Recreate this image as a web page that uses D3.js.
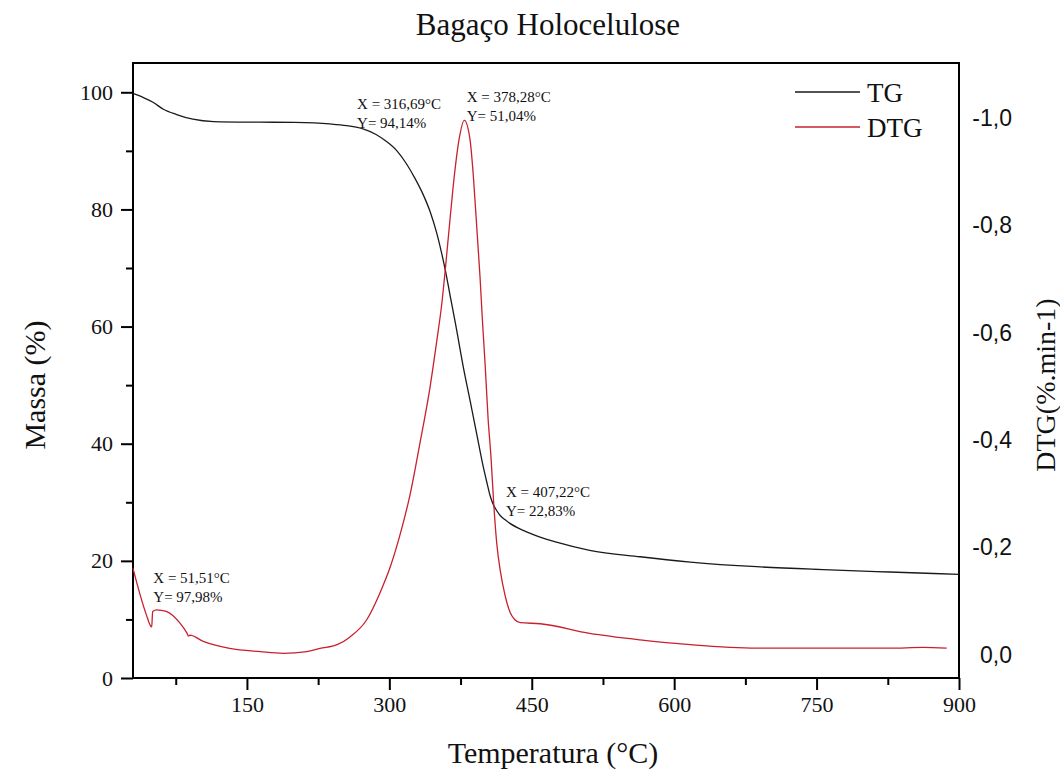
<!DOCTYPE html>
<html>
<head>
<meta charset="utf-8">
<script src="https://cdn.jsdelivr.net/npm/d3@7"></script>
<style>
  body { margin: 0; background: #fff; }
  text { font-family: "Liberation Serif", "Times New Roman", serif; fill: #111; }
</style>
</head>
<body>
<svg id="chart" width="1060" height="772"></svg>
<script>
// TG curve (mass %)
var tgTemp = [30, 41, 51, 62, 76, 93, 115, 164, 200, 237, 255, 273, 286, 297, 308, 318, 327, 336, 343, 350, 355, 359, 364, 370, 378, 385, 392, 399, 403, 406, 409, 413, 417, 422, 427, 441, 458, 476, 511, 564, 617, 687, 757, 827, 900];
var tgMass = [99.8, 99.1, 98.3, 97.1, 96.2, 95.4, 95.0, 94.9, 94.85, 94.6, 94.3, 93.7, 92.8, 91.6, 90.0, 87.8, 85.3, 82.4, 79.6, 75.9, 72.6, 69.6, 65.3, 60.2, 53.0, 47.4, 41.7, 36.0, 33.2, 31.2, 29.8, 28.6, 27.7, 27.0, 26.4, 25.2, 24.1, 23.2, 21.8, 20.7, 19.8, 19.0, 18.5, 18.1, 17.7];

// DTG curve (%.min-1)
var dtgTemp = [30, 37, 44, 49.7, 50.7, 55, 65, 79.5, 87, 88.5, 90, 104, 132, 164, 188, 213, 227, 245, 259, 276, 290, 301, 311, 322, 332, 343, 350, 355, 362, 367, 373, 379, 385, 388.5, 392, 395.5, 398, 401, 404, 407, 410, 413, 417, 422, 427, 432, 438, 459, 511, 564, 617, 687, 757, 827, 862, 887];
var dtgRate = [-0.161, -0.115, -0.075, -0.052, -0.081, -0.084, -0.081, -0.059, -0.040, -0.035, -0.037, -0.025, -0.012, -0.006, -0.003, -0.006, -0.012, -0.019, -0.034, -0.065, -0.115, -0.164, -0.222, -0.300, -0.392, -0.500, -0.585, -0.650, -0.775, -0.868, -0.955, -0.995, -0.959, -0.891, -0.798, -0.704, -0.624, -0.537, -0.440, -0.370, -0.280, -0.210, -0.155, -0.110, -0.080, -0.066, -0.060, -0.058, -0.040, -0.028, -0.019, -0.0125, -0.0125, -0.0125, -0.014, -0.0125];

var xTicks = [150, 300, 450, 600, 750, 900];
var xMinor = [75, 225, 375, 525, 675, 825];
var massTicks = [0, 20, 40, 60, 80, 100];
var massMinor = [10, 30, 50, 70, 90];
var dtgTicks = [0, -0.2, -0.4, -0.6, -0.8, -1.0];

var noteLines = [
  ["X = 316,69°C", "Y= 94,14%"],
  ["X = 378,28°C", "Y= 51,04%"],
  ["X = 407,22°C", "Y= 22,83%"],
  ["X = 51,51°C", "Y= 97,98%"]
];
// where each note sits, in temperature / mass units
var noteTemp = [266, 381.5, 422.9, 51.4];
var noteMass = [97.2, 98.4, 30.9, 16.2];

var seriesNames = ["TG", "DTG"];
var seriesColors = ["#1a1a1a", "#c8202e"];

var plotLeft = 133, plotRight = 959, plotTop = 63, plotBottom = 678;

var svg = d3.select("#chart");

var x = d3.scaleLinear().domain([30, 900]).range([plotLeft, plotRight]);
var y = d3.scaleLinear().domain([0, 105]).range([plotBottom, plotTop]);
var y2 = d3.scaleLinear().domain([0.043, -1.102]).range([plotBottom, plotTop]);

// frame
svg.append("rect")
  .attr("x", plotLeft).attr("y", plotTop)
  .attr("width", plotRight - plotLeft).attr("height", plotBottom - plotTop)
  .attr("fill", "none").attr("stroke", "#000").attr("stroke-width", 2);

function styleAxis(g) {
  g.select(".domain").remove();
  g.selectAll(".tick line").attr("stroke", "#000").attr("stroke-width", 2);
}

// bottom axis
svg.append("g")
  .attr("transform", "translate(0," + plotBottom + ")")
  .call(d3.axisBottom(x).tickValues(xTicks).tickSize(12).tickPadding(6))
  .call(styleAxis)
  .selectAll("text")
    .style("font-family", "Liberation Serif, serif")
    .style("font-size", "22px")
    .attr("fill", "#111");
svg.append("g")
  .attr("transform", "translate(0," + plotBottom + ")")
  .call(d3.axisBottom(x).tickValues(xMinor).tickSize(7).tickFormat(""))
  .call(styleAxis);

// left axis
svg.append("g")
  .attr("transform", "translate(" + plotLeft + ",0)")
  .call(d3.axisLeft(y).tickValues(massTicks).tickSize(12).tickPadding(8))
  .call(styleAxis)
  .selectAll("text")
    .style("font-family", "Liberation Serif, serif")
    .style("font-size", "22px")
    .attr("fill", "#111");
svg.append("g")
  .attr("transform", "translate(" + plotLeft + ",0)")
  .call(d3.axisLeft(y).tickValues(massMinor).tickSize(7).tickFormat(""))
  .call(styleAxis);

// right axis (no tick marks)
var rightAxis = svg.append("g")
  .attr("transform", "translate(" + plotRight + ",0)")
  .call(d3.axisRight(y2).tickValues(dtgTicks).tickSize(0).tickPadding(53)
    .tickFormat(function(d) { return d.toFixed(1).replace(".", ","); }))
  .call(styleAxis);
rightAxis.selectAll("text")
  .attr("text-anchor", "end")
  .style("font-family", "Liberation Sans, Arial, sans-serif")
  .style("font-size", "23px")
  .attr("fill", "#111");

// lines
var tgData = tgTemp.map(function(t, i) { return {t: t, v: tgMass[i]}; });
var dtgData = dtgTemp.map(function(t, i) { return {t: t, v: dtgRate[i]}; });

svg.append("path")
  .datum(tgData)
  .attr("fill", "none")
  .attr("stroke", seriesColors[0])
  .attr("stroke-width", 1.3)
  .attr("d", d3.line().curve(d3.curveMonotoneX)
    .x(function(d) { return x(d.t); })
    .y(function(d) { return y(d.v); }));

svg.append("path")
  .datum(dtgData)
  .attr("fill", "none")
  .attr("stroke", seriesColors[1])
  .attr("stroke-width", 1.3)
  .attr("d", d3.line().curve(d3.curveMonotoneX)
    .x(function(d) { return x(d.t); })
    .y(function(d) { return y2(d.v); }));

// notes
noteLines.forEach(function(lines, i) {
  var t = svg.append("text")
    .attr("x", x(noteTemp[i]))
    .attr("y", y(noteMass[i]))
    .style("font-size", "15px");
  lines.forEach(function(s, j) {
    t.append("tspan")
      .attr("x", x(noteTemp[i]))
      .attr("dy", j === 0 ? 0 : 19)
      .text(s);
  });
});

// legend
var legend = svg.append("g").attr("transform", "translate(795,92)");
seriesNames.forEach(function(name, i) {
  legend.append("line")
    .attr("x1", 0).attr("x2", 65)
    .attr("y1", i * 35).attr("y2", i * 35)
    .attr("stroke", seriesColors[i]).attr("stroke-width", 1.3);
  legend.append("text")
    .attr("x", 72).attr("y", i * 35 + 9.5)
    .style("font-size", "27px")
    .text(name);
});

// titles
svg.append("text")
  .attr("x", 548).attr("y", 35)
  .attr("text-anchor", "middle")
  .style("font-size", "31px")
  .text("Bagaço Holocelulose");

svg.append("text")
  .attr("x", 553).attr("y", 763)
  .attr("text-anchor", "middle")
  .style("font-size", "30px")
  .text("Temperatura (°C)");

svg.append("text")
  .attr("transform", "translate(45,385) rotate(-90)")
  .attr("text-anchor", "middle")
  .style("font-size", "30px")
  .text("Massa (%)");

svg.append("text")
  .attr("transform", "translate(1055,385) rotate(-90)")
  .attr("text-anchor", "middle")
  .style("font-size", "28px")
  .text("DTG(%.min-1)");
</script>
</body>
</html>
